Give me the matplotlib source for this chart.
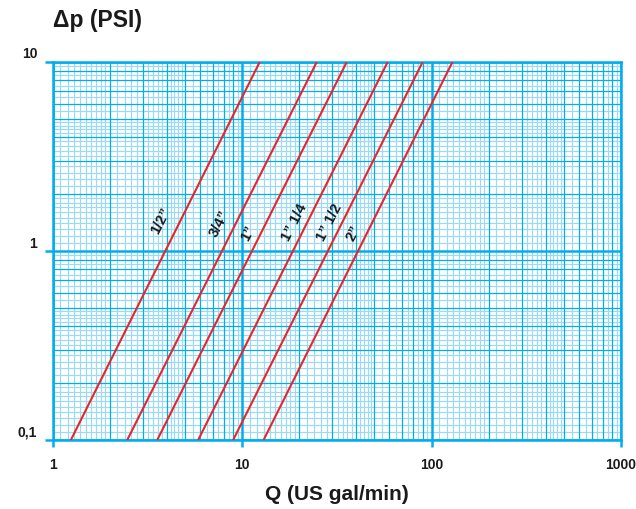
import matplotlib
matplotlib.use("Agg")
import matplotlib.pyplot as plt
import matplotlib.transforms as mtransforms
import numpy as np

plt.rcParams['font.family'] = ['Liberation Sans', 'DejaVu Sans']
plt.rcParams['font.weight'] = 'bold'

# Data: flow Q (US gal/min) at Δp = 0.1 PSI and Δp = 10 PSI for each size
sizes = ['1/2”', '3/4”', '1”', '1” 1/4', '1” 1/2', '2”']
dp_ends = [0.1, 10]
q_at_low = [1.25, 2.48, 3.57, 5.87, 8.98, 13.0]
q_at_high = [12.4, 24.8, 35.7, 58.7, 89.8, 129.0]

x_ticks = [1, 10, 100, 1000]
x_tick_labels = ['1', '10', '100', '1000']
y_ticks = [0.1, 1, 10]
y_tick_labels = ['0,1', '1', '10']

# label anchor positions (data coords)
label_pos = [(3.75, 1.44), (7.6, 1.39), (10.73, 1.245),
             (18.9, 1.42), (28.9, 1.42), (38.9, 1.245)]

BLUE = '#00AEEF'
LIGHT = '#99DBF7'
RED = '#E8262A'

fig = plt.figure(figsize=(6.36, 5.09), dpi=100)
ax = fig.add_axes([52.5/636, 1-440/509, (621-52.5)/636, (440-62)/509])
ax.set_xscale('log')
ax.set_yscale('log')
ax.set_xlim(1, 1000)
ax.set_ylim(0.1, 10)

def sub_values(lo, hi):
    light, medium = [], []
    d = lo
    while d < hi:
        for v in np.arange(1.1, 2.0, 0.1):
            light.append(v * d)
        for v in np.arange(2.2, 5.0, 0.2):
            if abs(v - round(v)) > 1e-6:
                light.append(v * d)
        for v in np.arange(5.5, 10.0, 1.0):
            light.append(v * d)
        for v in range(2, 10):
            medium.append(v * d)
        d *= 10
    return light, medium

lx, mx = sub_values(1, 1000)
ly, my = sub_values(0.1, 10)
for v in lx:
    ax.axvline(v, color=LIGHT, lw=0.85, zorder=1)
for v in ly:
    ax.axhline(v, color=LIGHT, lw=0.85, zorder=1)
for v in mx:
    ax.axvline(v, color=BLUE, lw=0.9, zorder=2)
for v in my:
    ax.axhline(v, color=BLUE, lw=0.9, zorder=2)
for v in x_ticks:
    ax.axvline(v, color=BLUE, lw=1.8, zorder=3)
for v in y_ticks:
    ax.axhline(v, color=BLUE, lw=1.8, zorder=3)

for s in ax.spines.values():
    s.set_color(BLUE)
    s.set_linewidth(1.8)

for ql, qh in zip(q_at_low, q_at_high):
    ax.plot([ql, qh], dp_ends, color=RED, lw=1.5, zorder=5, solid_capstyle='butt')

for name, (px, py) in zip(sizes, label_pos):
    ax.text(px, py, name, rotation=63, rotation_mode='anchor', ha='center', va='center',
            fontsize=10.5, fontweight='bold', color='#1a1a1a', zorder=6)

ax.set_xticks(x_ticks)
ax.set_xticklabels(x_tick_labels)
ax.set_yticks(y_ticks)
ax.set_yticklabels(y_tick_labels)
ax.minorticks_off()
ax.tick_params(axis='x', length=5, width=1.8, color=BLUE, pad=8, labelsize=10, labelcolor='#1a1a1a')
ax.tick_params(axis='y', length=6, width=1.8, color=BLUE, pad=5, labelsize=10, labelcolor='#1a1a1a')
for lab in ax.get_xticklabels() + ax.get_yticklabels():
    lab.set_fontweight('bold')
offset = mtransforms.ScaledTranslation(0, 9/100, fig.dpi_scale_trans)
for lab in ax.get_yticklabels():
    lab.set_transform(lab.get_transform() + offset)

fig.text(53/636, 1-20/509, 'Δp (PSI)', ha='left', va='center', fontsize=16.5, fontweight='bold', color='#1a1a1a')
fig.text(337/636, 1-495/509, 'Q (US gal/min)', ha='center', va='center', fontsize=15, fontweight='bold', color='#1a1a1a')

fig.savefig('out.png', dpi=100)
